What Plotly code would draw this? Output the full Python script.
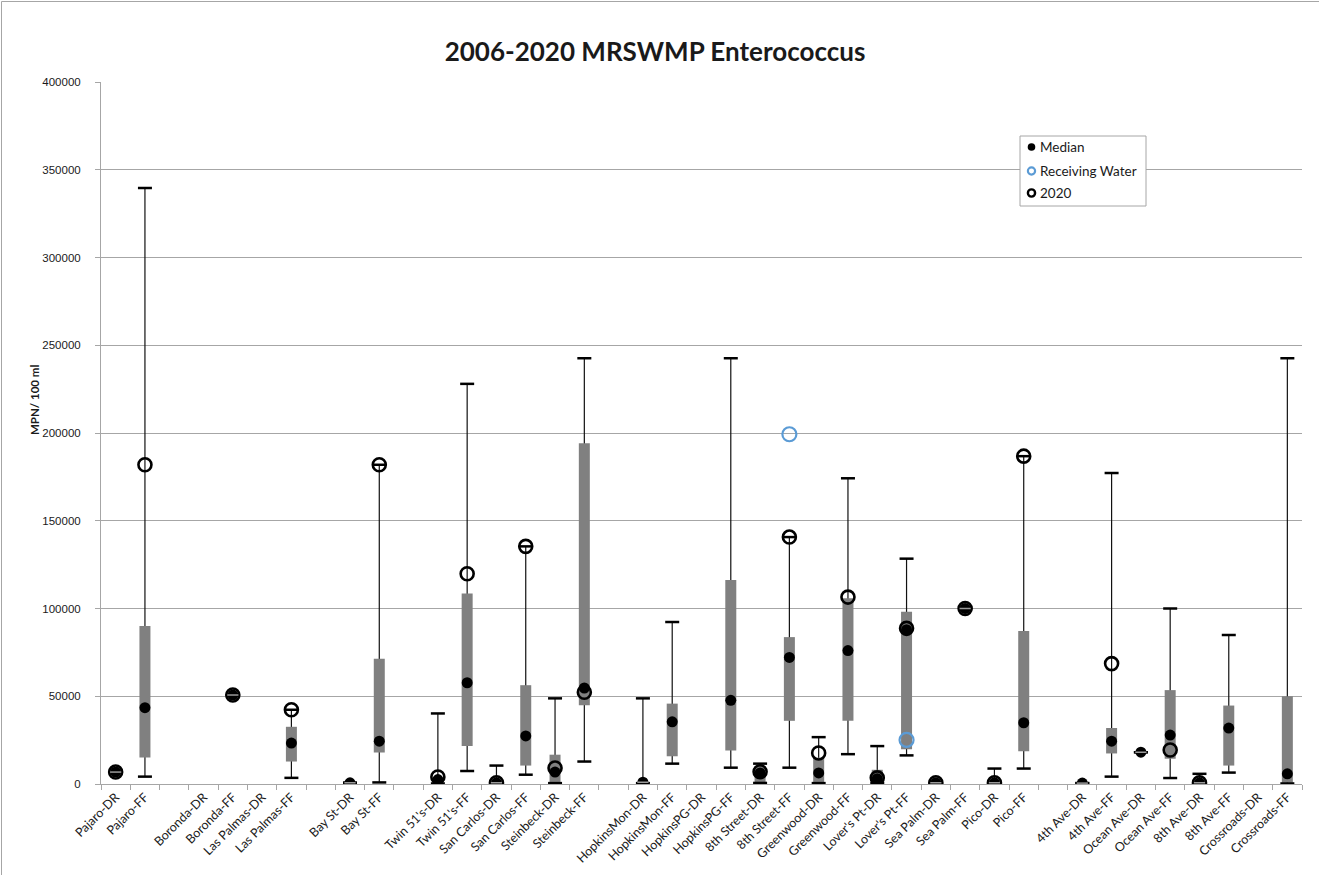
import plotly.graph_objects as go

# ---------------- data ----------------
categories = ["Pajaro-DR", "Pajaro-FF", " ", "Boronda-DR", "Boronda-FF", "Las Palmas-DR", "Las Palmas-FF",
              "  ", "Bay St-DR", "Bay St-FF", "   ", "Twin 51's-DR", "Twin 51's-FF", "San Carlos-DR",
              "San Carlos-FF", "Steinbeck-DR", "Steinbeck-FF", "    ", "HopkinsMon-DR", "HopkinsMon-FF",
              "HopkinsPG-DR", "HopkinsPG-FF", "8th Street-DR", "8th Street-FF", "Greenwood-DR", "Greenwood-FF",
              "Lover's Pt-DR", "Lover's Pt-FF", "Sea Palm-DR", "Sea Palm-FF", "Pico-DR", "Pico-FF", "     ",
              "4th Ave-DR", "4th Ave-FF", "Ocean Ave-DR", "Ocean Ave-FF", "8th Ave-DR", "8th Ave-FF",
              "Crossroads-DR", "Crossroads-FF"]

N = None
whisker_min = [6800, 4200, N, N, 50700, N, 3500, N, 700, 900, N, 300, 7400, 300, 5300, 500, 12800, N,
               500, 11600, N, 9300, 600, 9300, 500, 17000, 500, 16300, 700, 100000, 300, 8800, N,
               500, 4200, 18100, 3400, 500, 6500, N, 300]
whisker_max = [6800, 339600, N, N, 50700, N, 42300, N, 700, 181900, N, 40200, 228000, 10500, 135400, 48800,
               242600, N, 48800, 92300, N, 242600, 11600, 140700, 26700, 174200, 21600, 128400, 700, 100000,
               8800, 186800, N, 500, 177200, 18100, 100000, 5800, 84900, N, 242600]
q1 = [6800, 15100, N, N, 50700, N, 12800, N, 700, 17900, N, N, 21600, 700, 10500, 1000, 44900, N,
      1000, 15800, N, 19100, 1000, 36000, 1000, 36000, 1000, 19800, 700, 100000, 700, 18600, N,
      500, 17400, 18100, 14400, 700, 10500, N, 700]
q3 = [6800, 90000, N, N, 50700, N, 32600, N, 700, 71400, N, N, 108600, 700, 56300, 16700, 194200, N,
      1000, 45800, N, 116300, 10000, 83700, 15000, 105800, 8100, 98200, 700, 100000, 700, 87200, N,
      500, 31900, 18100, 53500, 700, 44700, N, 50000]
median = [6800, 43500, N, N, 50700, N, 23300, N, 700, 24400, N, 2500, 57700, 700, 27400, 6800, 54700, N,
          1000, 35400, N, 47700, 6300, 72100, 6300, 76000, 3000, 87900, 700, 100000, 700, 34900, N,
          500, 24400, 18100, 27900, 700, 31900, N, 5800]
value_2020 = [6800, 181900, N, N, 50700, N, 42300, N, N, 181900, N, 4000, 119800, 700, 135400, 9100, 52300, N,
              N, N, N, N, 7000, 140700, 17700, 106500, 3500, 88700, 700, 100000, 700, 186800, N,
              N, 68600, N, 19400, 700, N, N, N]
receiving_water = [N] * 23 + [199300] + [N] * 3 + [25100] + [N] * 13

title_text = "2006-2020 MRSWMP Enterococcus"
y_title = "MPN/ 100 ml"
legend_labels = ["Median", "Receiving Water", "2020"]

# ---------------- helpers ----------------
def diff(a, b):
    return [(x - y) if (x is not None and y is not None) else None for x, y in zip(a, b)]

zeros = [0 if v is not None else None for v in whisker_min]
box_zeros = [0 if v is not None else None for v in q1]
flat = [a if (a is not None and a == b) else None for a, b in zip(q1, q3)]

BLACK = "#000000"
GRAY = "#808080"
BLUE = "#5B9BD5"
FONT = "Lato"
TXT = "#1a1a1a"

fig = go.Figure()

# whiskers (drawn first so the box covers them)
fig.add_trace(go.Scatter(
    x=categories, y=whisker_min, mode="markers", showlegend=False, hoverinfo="skip",
    marker=dict(size=1, opacity=0),
    error_y=dict(type="data", symmetric=False, array=diff(whisker_max, whisker_min), arrayminus=zeros,
                 color="#111111", thickness=1.2, width=0)))

# boxes (interquartile range)
fig.add_trace(go.Scatter(
    x=categories, y=q1, mode="markers", showlegend=False, hoverinfo="skip",
    marker=dict(size=1, opacity=0),
    error_y=dict(type="data", symmetric=False, array=diff(q3, q1), arrayminus=box_zeros,
                 color=GRAY, thickness=11, width=0)))

# medians
fig.add_trace(go.Scatter(
    x=categories, y=median, mode="markers", name=legend_labels[0], showlegend=False,
    marker=dict(symbol="circle", size=11, color=BLACK, line=dict(width=0))))

# receiving water
fig.add_trace(go.Scatter(
    x=categories, y=receiving_water, mode="markers", name=legend_labels[1], showlegend=False,
    marker=dict(symbol="circle-open", size=14, color=BLUE, line=dict(width=2.2, color=BLUE))))

# 2020
fig.add_trace(go.Scatter(
    x=categories, y=value_2020, mode="markers", name=legend_labels[2], showlegend=False,
    marker=dict(symbol="circle-open", size=13, color=BLACK, line=dict(width=2.6, color=BLACK))))

# whisker caps
for arr in (whisker_max, whisker_min):
    fig.add_trace(go.Scatter(
        x=categories, y=arr, mode="markers", showlegend=False, hoverinfo="skip",
        marker=dict(symbol="line-ew", size=10, color=BLACK, line=dict(width=2.5, color=BLACK))))

# collapsed boxes (single values) show a light dash
fig.add_trace(go.Scatter(
    x=categories, y=flat, mode="markers", showlegend=False, hoverinfo="skip",
    marker=dict(symbol="line-ew", size=8, color="#9a9a9a", line=dict(width=1.5, color="#9a9a9a"))))

W, H = 1319, 875
L, R, T, B = 101, 17, 82, 91
pw, ph = W - L - R, H - T - B

def px_x(p):
    return (p - L) / pw

def px_y(p):
    return (H - B - p) / ph

fig.update_layout(
    width=W, height=H,
    margin=dict(l=L, r=R, t=T, b=B, autoexpand=False),
    paper_bgcolor="white", plot_bgcolor="white",
    title=dict(text="<b>" + title_text + "</b>", x=655 / W, xanchor="center", xref="container",
               y=1 - 52 / H, yanchor="middle", yref="container",
               font=dict(family=FONT, size=26, color=TXT)),
    showlegend=False,
    font=dict(family=FONT, color=TXT),
)

fig.update_xaxes(
    type="category", categoryorder="array", categoryarray=categories,
    range=[-0.5, len(categories) - 0.5], automargin=False,
    tickson="boundaries", ticks="outside", ticklen=5, tickcolor="#a6a6a6",
    showline=True, linecolor="#a6a6a6", linewidth=1, showgrid=False,
    tickangle=-45, tickfont=dict(family=FONT, size=12.5, color=TXT))

fig.update_yaxes(
    range=[0, 400000], dtick=50000, tickformat="d", automargin=False,
    showgrid=True, gridcolor="#a6a6a6", gridwidth=1,
    showline=True, linecolor="#a6a6a6", linewidth=1, zeroline=False,
    ticks="outside", ticklen=5, tickcolor="#a6a6a6", ticklabelstandoff=12,
    tickfont=dict(family="Liberation Sans", size=11.5, color=TXT))

# y-axis title
fig.add_annotation(text="<b>" + y_title + "</b>", textangle=-90,
                   xref="paper", yref="paper", x=px_x(35), y=px_y(400),
                   xanchor="center", yanchor="middle",
                   showarrow=False, font=dict(family=FONT, size=11.5, color=TXT))

# chart-area border (top and left edges)
fig.add_shape(type="line", xref="paper", yref="paper",
              x0=px_x(1.5), x1=px_x(W), y0=px_y(1.5), y1=px_y(1.5),
              line=dict(color="#a6a6a6", width=1))
fig.add_shape(type="line", xref="paper", yref="paper",
              x0=px_x(1.5), x1=px_x(1.5), y0=px_y(1.5), y1=px_y(H),
              line=dict(color="#a6a6a6", width=1))

# legend box (drawn as in the original chart)
fig.add_shape(type="rect", xref="paper", yref="paper",
              x0=px_x(1020), x1=px_x(1146), y0=px_y(206), y1=px_y(136),
              line=dict(color="#a6a6a6", width=1), fillcolor="white")
legend_rows = [147, 171, 193]
legend_styles = [dict(fillcolor=BLACK, line=dict(width=0), r=3.8),
                 dict(fillcolor="rgba(0,0,0,0)", line=dict(color=BLUE, width=2.2), r=3.6),
                 dict(fillcolor="rgba(0,0,0,0)", line=dict(color=BLACK, width=2.4), r=3.6)]
for lab, row, st in zip(legend_labels, legend_rows, legend_styles):
    fig.add_shape(type="circle", xref="paper", yref="paper", xsizemode="pixel", ysizemode="pixel",
                  xanchor=px_x(1031.5), yanchor=px_y(row),
                  x0=-st["r"], x1=st["r"], y0=-st["r"], y1=st["r"],
                  fillcolor=st["fillcolor"], line=st["line"])
    fig.add_annotation(text=lab, xref="paper", yref="paper", x=px_x(1038), y=px_y(row),
                       xanchor="left", yanchor="middle", showarrow=False,
                       font=dict(family=FONT, size=13.5, color=TXT))

fig.write_html("out.html", config={"displayModeBar": False},
               post_script="document.body.style.margin='0';document.body.style.padding='0';")
